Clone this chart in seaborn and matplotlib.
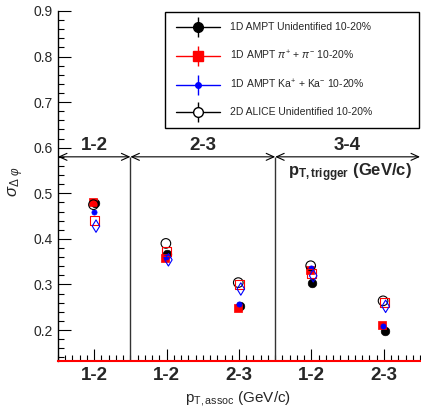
import numpy as np
import pandas as pd
import seaborn as sns
import matplotlib
matplotlib.use('Agg')
import matplotlib.pyplot as plt
from matplotlib.lines import Line2D
from matplotlib.legend_handler import HandlerTuple
from matplotlib.ticker import MultipleLocator, FixedLocator

# ---- data ----
assoc_labels = ['1-2', '1-2', '2-3', '1-2', '2-3']
trigger_labels = ['1-2', '2-3', '3-4']
trigger_nbins = [1, 2, 2]
ampt_unid = [0.478, 0.367, 0.253, 0.304, 0.198]
ampt_pi = [0.480, 0.359, 0.249, 0.332, 0.210]
ampt_ka = [0.460, 0.361, 0.257, 0.337, 0.209]
alice_unid = [0.475, 0.390, 0.304, 0.341, 0.264]
pi_open = [0.440, 0.372, 0.299, 0.323, 0.261]
ka_open = [0.428, 0.354, 0.290, 0.319, 0.252]
arrow_y = 0.58

sns.set_style('ticks')
plt.rcParams['font.family'] = ['Liberation Sans', 'DejaVu Sans']
plt.rcParams['mathtext.fontset'] = 'custom'
plt.rcParams['mathtext.rm'] = 'Liberation Sans'
plt.rcParams['mathtext.it'] = 'Liberation Sans:italic'
plt.rcParams['mathtext.bf'] = 'Liberation Sans:bold'

fig = plt.figure(figsize=(4.21, 4.15), dpi=100)
ax = fig.add_axes([58/421, 54/415, 362/421, 350/415])

xc = np.arange(len(assoc_labels)) + 0.5
series = [
    (ampt_unid, dict(marker='o', s=38, color='black', edgecolor='black', linewidth=0.5), 0.01),
    (ampt_pi, dict(marker='s', s=38, color='red', edgecolor='red', linewidth=0.5), -0.02),
    (ampt_ka, dict(marker='o', s=14, color='blue', edgecolor='blue', linewidth=0.5), -0.005),
    (alice_unid, dict(marker='o', s=48, facecolor='none', edgecolor='black', linewidth=0.8), -0.01),
    (pi_open, dict(marker='s', s=42, facecolor='none', edgecolor='red', linewidth=0.8), 0.005),
    (ka_open, dict(marker='d', s=40, facecolor='none', edgecolor='blue', linewidth=0.8), 0.025),
]
for vals, kw, off in series:
    df = pd.DataFrame({'x': xc + off, 'y': vals})
    sns.scatterplot(data=df, x='x', y='y', ax=ax, legend=False, zorder=3, **kw)

ax.set_xlim(0, len(assoc_labels))
ax.set_ylim(0.132, 0.9)
ax.set_xlabel('')
ax.set_ylabel('')

# axes styling
for s in ['top', 'right']:
    ax.spines[s].set_visible(False)
ax.spines['bottom'].set_color('red')
ax.spines['bottom'].set_linewidth(1.5)
ax.spines['left'].set_color('black')
ax.spines['left'].set_linewidth(1.0)

ax.xaxis.set_major_locator(FixedLocator(xc))
ax.set_xticklabels(assoc_labels, fontsize=13.5, fontweight='bold')
ax.xaxis.set_minor_locator(MultipleLocator(0.1))
ax.yaxis.set_major_locator(MultipleLocator(0.1))
ax.yaxis.set_minor_locator(MultipleLocator(0.02))
ax.tick_params(axis='both', which='both', direction='in', color='black', width=0.8)
ax.tick_params(axis='both', which='major', length=9)
ax.tick_params(axis='both', which='minor', length=4.5)
ax.tick_params(axis='x', which='major', pad=4)
ax.tick_params(axis='y', labelsize=10, pad=4)
ax.set_yticklabels([f'{v:.1f}' for v in ax.get_yticks()])

# trigger regions
edges = np.concatenate([[0], np.cumsum(trigger_nbins)])
ax.vlines(edges[1:-1], 0.132, arrow_y, color='#333333', lw=1.0, zorder=1)
for i, lab in enumerate(trigger_labels):
    ax.annotate('', xy=(edges[i + 1], arrow_y), xytext=(edges[i], arrow_y),
                arrowprops=dict(arrowstyle='<->,head_length=0.55,head_width=0.25',
                                lw=0.8, color='black', shrinkA=0, shrinkB=0),
                annotation_clip=False)
    ax.text((edges[i] + edges[i + 1]) / 2, 0.604, lab, ha='center', va='center',
            fontsize=13.5, fontweight='bold')
ax.text(4.03, 0.545, r'p$_{\mathbf{T,trigger}}$ (GeV/c)', ha='center', va='center',
        fontsize=12, fontweight='bold')

# axis labels
fig.text(238/421, 1 - 398/415, r'p$_{\mathrm{T,assoc}}$ (GeV/c)', ha='center', va='center', fontsize=11)
fig.text(16/421, 1 - 182/415, r'$\sigma_{\Delta\ \varphi}$', ha='center', va='center',
         rotation=90, fontsize=12)

# legend
def handle(color, marker, ms, filled):
    return (Line2D([], [], color=color, lw=1.0),
            Line2D([], [], color=color, marker='|', markersize=14, linestyle='none', markeredgewidth=1.0),
            Line2D([], [], color=color, marker=marker, markersize=ms, linestyle='none',
                   markerfacecolor=color if filled else 'white', markeredgecolor=color))
handles = [handle('black', 'o', 7, True), handle('red', 's', 7, True),
           handle('blue', 'o', 4, True), handle('black', 'o', 7, False)]
labels = ['1D AMPT Unidentified 10-20%',
          r'1D AMPT $\pi^{+}$ + $\pi^{-}$ 10-20%',
          r'1D AMPT Ka$^{+}$ + Ka$^{-}$ 10-20%',
          '2D ALICE Unidentified 10-20%']
leg = ax.legend(handles, labels, handler_map={tuple: HandlerTuple(ndivide=1, pad=0)},
                loc='upper left', bbox_to_anchor=(0.296, 0.997, 0.701, 0.0), mode='expand',
                borderaxespad=0, fontsize=7.5, handlelength=4.3, handletextpad=0.9,
                labelspacing=1.55, borderpad=1.0, frameon=True, fancybox=False,
                framealpha=1, edgecolor='black')
leg.get_frame().set_linewidth(1.0)

fig.savefig('out.png', dpi=100)
